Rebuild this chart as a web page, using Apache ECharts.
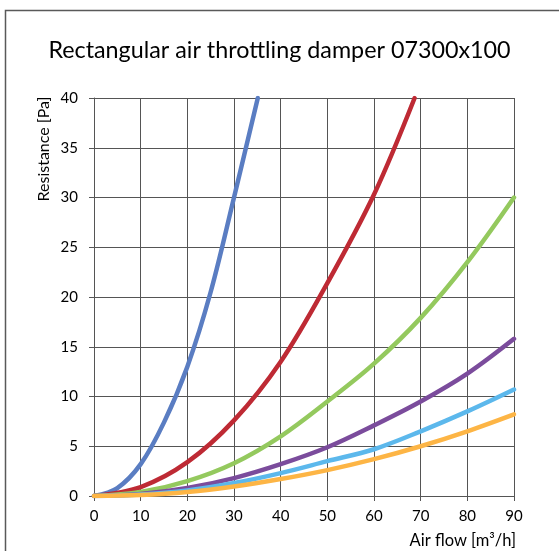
<!DOCTYPE html>
<html><head><meta charset="utf-8">
<script src="https://cdn.jsdelivr.net/npm/echarts@6/dist/echarts.min.js"></script>
<style>html,body{margin:0;padding:0;background:#fff}#c{width:559px;height:551px}</style>
</head><body><div id="c"></div>
<script>
const titleText = 'Rectangular air throttling damper 07300x100';
const xName = 'Air flow [m³/h]';
const yName = 'Resistance [Pa]';
const flows = [0,10,20,30,40,50,60,70,80,90];
const blueX = [0,5,10,15,20,25,30,35.1];
const blueY = [0,0.8,3.2,7.4,13,20.5,30,40];
const redX = [0,10,20,30,40,50,60,68.7];
const redY = [0,0.9,3.4,7.6,13.5,21.4,30.3,40];
const greenY = [0,0.4,1.5,3.3,6.0,9.5,13.3,17.9,23.5,30];
const purpleY = [0,0.2,0.8,1.8,3.2,4.9,7.1,9.5,12.3,15.8];
const lightBlueY = [0,0.14,0.55,1.3,2.3,3.5,4.7,6.5,8.5,10.7];
const orangeY = [0,0.1,0.4,0.95,1.7,2.6,3.7,5.0,6.5,8.2];
const colors = ['#5a7dc2','#be2a34','#94c95e','#7b4c9c','#5cb8ec','#fdb545'];

const pair = (xs, ys) => xs.map((x,i)=>[x, ys[i]]);
const seriesData = [pair(blueX,blueY), pair(redX,redY), pair(flows,greenY), pair(flows,purpleY), pair(flows,lightBlueY), pair(flows,orangeY)];
const FONT = 'Lato';
const chart = echarts.init(document.getElementById('c'));
chart.setOption({
  animation:false,
  title:{text:titleText,left:'center',top:34,textStyle:{fontFamily:FONT,fontSize:23.3,fontWeight:'normal',color:'#000'}},
  grid:{left:94,top:98,right:45,bottom:55,containLabel:false},
  xAxis:{type:'value',min:0,max:90,interval:10,
    axisLine:{show:true,lineStyle:{color:'#555',width:1}},
    axisTick:{show:true,length:5,lineStyle:{color:'#555'}},
    axisLabel:{margin:13,fontFamily:FONT,fontSize:15,color:'#000'},
    splitLine:{show:true,lineStyle:{color:'#555',width:1}}},
  yAxis:{type:'value',min:0,max:40,interval:5,
    axisLine:{show:true,lineStyle:{color:'#555',width:1}},
    axisTick:{show:true,length:5,lineStyle:{color:'#555'}},
    axisLabel:{margin:16,fontFamily:FONT,fontSize:15,color:'#000'},
    splitLine:{show:true,lineStyle:{color:'#555',width:1}}},
  graphic:[
    {type:'rect',shape:{x:5.5,y:10.5,width:700,height:700},style:{fill:'none',stroke:'#595959',lineWidth:1.5},silent:true,z:-10},
    {type:'text',x:44,y:149,rotation:Math.PI/2,style:{text:yName,fontFamily:FONT,fontSize:16,fill:'#000',align:'center',verticalAlign:'middle'}},
    {type:'text',x:516,y:541,style:{text:xName,fontFamily:FONT,fontSize:16.5,fill:'#000',align:'right',verticalAlign:'middle'}}
  ],
  series: seriesData.map((d,i)=>({type:'line',data:d,smooth:0.35,showSymbol:false,symbol:'none',
    lineStyle:{color:colors[i],width:4.5,cap:'round'},clip:true}))
});
</script></body></html>
